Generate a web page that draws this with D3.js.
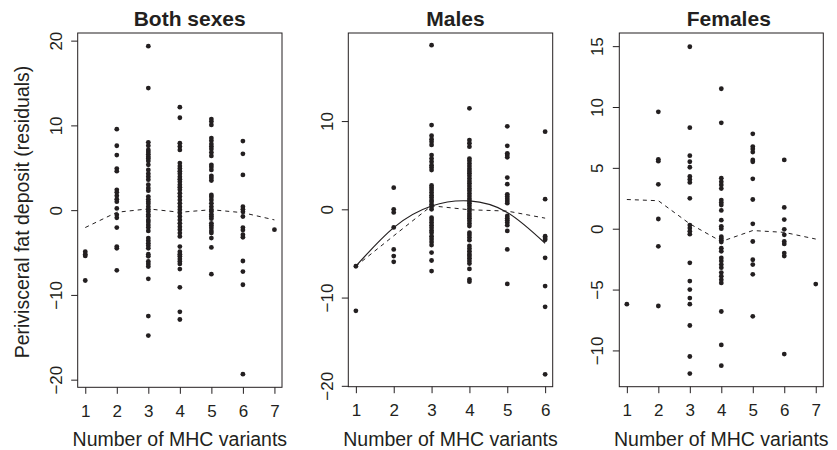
<!DOCTYPE html>
<html>
<head>
<meta charset="utf-8">
<script src="https://cdnjs.cloudflare.com/ajax/libs/d3/7.8.5/d3.min.js"></script>
<style>
    body { margin: 0; background: #fff; }
    svg text { font-family: "Liberation Sans", Arial, Helvetica, sans-serif; fill: #231f20; }
</style>
</head>
<body>
<div id="chart"></div>
<script>
// Panel titles and axis ticks
const titles = ["Both sexes", "Males", "Females"];
const bothTicksX = [1, 2, 3, 4, 5, 6, 7];
const malesTicksX = [1, 2, 3, 4, 5, 6];
const femalesTicksX = [1, 2, 3, 4, 5, 6, 7];
const bothTicksY = [-20, -10, 0, 10, 20];
const malesTicksY = [-20, -10, 0, 10];
const femalesTicksY = [-10, -5, 0, 5, 10, 15];

// Residuals per number of MHC variants (index 0 = 1 variant)
const bothPoints = [
    [-4.9, -5.2, -5.4, -8.3],
    [9.55, 7.6, 6.5, 4.9, 4.6, 2.4, 2.1, 1.7, 1.3, 1.0, 0.2, -0.55, -0.9, -2.05, -4.3, -4.5, -7.1],
    [19.35, 14.4, 8.0, 7.6, 7.1, 6.85, 6.6, 6.3, 6.1, 5.8, 5.35, 4.75, 4.3, 3.95, 3.6, 3.0, 2.6, 2.3, 1.6, 1.3, 1.0, 0.75, 0.4, 0.1, -0.15, -0.5, -0.75, -1.15, -1.4, -1.75, -2.05, -2.45, -3.3, -3.6, -3.9, -4.2, -4.5, -5.2, -5.45, -6.05, -6.35, -6.65, -8.1, -12.5, -14.8],
    [12.15, 10.9, 7.9, 7.5, 7.1, 5.55, 5.2, 4.9, 4.6, 4.3, 3.95, 3.65, 3.35, 3.0, 2.7, 2.4, 2.0, 1.6, 1.2, 0.8, 0.4, 0.05, -0.35, -0.75, -1.15, -1.55, -1.95, -2.3, -2.7, -3.1, -4.3, -4.9, -5.2, -5.45, -5.75, -6.05, -6.35, -6.95, -9.1, -12.0, -12.9],
    [10.75, 10.45, 10.05, 8.5, 8.2, 7.8, 7.5, 7.2, 6.8, 6.4, 5.35, 5.1, 4.75, 4.05, 3.8, 3.5, 1.8, 1.55, 1.2, 0.8, 0.4, 0.05, -0.15, -0.5, -0.75, -1.0, -1.55, -1.8, -2.1, -2.45, -2.7, -3.3, -4.4, -7.55],
    [8.15, 6.65, 4.15, 0.4, 0.1, -0.2, -0.75, -2.05, -2.35, -2.9, -3.2, -6.0, -7.25, -8.8, -19.35],
    [-2.3]
];
const malesPoints = [
    [-6.45, -11.5],
    [2.45, 0.0, -0.35, -2.05, -4.55, -5.3, -5.95],
    [18.6, 9.55, 8.35, 7.95, 7.65, 7.3, 6.15, 5.75, 5.4, 5.0, 4.75, 4.45, 2.7, 2.45, 2.2, 1.9, 1.6, 1.35, 1.05, 0.85, 0.55, 0.3, 0.0, -0.95, -1.2, -1.5, -1.8, -2.1, -2.4, -2.65, -3.05, -3.35, -3.7, -4.05, -4.9, -5.8, -7.0],
    [11.45, 7.85, 7.5, 7.1, 5.75, 5.5, 5.2, 4.9, 4.6, 4.35, 4.1, 3.8, 3.5, 3.2, 2.95, 2.65, 2.35, 2.1, 1.8, 1.5, 1.2, 0.95, 0.7, 0.4, 0.1, -0.2, -0.5, -0.75, -1.0, -1.3, -1.6, -1.9, -2.65, -2.9, -3.2, -3.5, -4.15, -4.45, -4.75, -5.05, -5.3, -5.55, -5.85, -6.15, -6.75, -7.95, -8.2],
    [9.4, 7.2, 6.35, 6.15, 5.9, 3.6, 2.85, 1.7, 1.45, 1.2, 0.95, 0.7, -0.75, -1.0, -1.25, -1.5, -1.8, -2.45, -4.55, -8.45],
    [8.8, 1.15, -3.05, -3.25, -3.45, -5.5, -8.7, -11.05, -18.7]
];
const femalesPoints = [
    [-6.2],
    [9.6, 5.7, 5.55, 3.65, 0.8, -1.45, -6.35],
    [14.95, 8.3, 6.0, 5.5, 5.05, 4.3, 4.05, 3.8, 2.5, 0.3, 0.05, -0.2, -0.45, -2.8, -4.3, -5.0, -5.7, -6.2, -7.95, -10.5, -11.9],
    [11.5, 8.7, 4.15, 3.85, 3.6, 3.3, 2.35, 2.15, 1.95, 1.5, 0.7, 0.2, 0.0, -0.65, -0.8, -0.95, -1.1, -1.6, -1.85, -2.4, -2.65, -2.95, -3.2, -3.6, -3.9, -4.2, -4.45, -6.8, -9.55, -11.25],
    [7.8, 6.75, 6.55, 6.3, 5.65, 5.5, 4.1, 2.4, 0.4, -1.05, -2.55, -2.95, -3.75, -7.2],
    [5.65, 1.75, 0.75, -0.05, -0.5, -1.05, -1.25, -2.0, -2.25, -10.3],
    [-4.55]
];

// Dashed trend lines (value at each number of variants) and the quadratic fit for males
const bothTrend = [-2.05, -0.25, 0.15, -0.25, 0.05, -0.3, -1.15];
const malesTrend = [-6.44, -3.0, 0.4, -0.05, -0.2, -1.0];
const malesQuadratic = [-6.44, -2.07, 0.37, 0.95, -0.35, -3.85];
const femalesTrend = [2.4, 2.3, 0.4, -1.05, -0.15, -0.3, -0.85];

const width = 837;
const height = 450;
const ink = "#231f20";

const svg = d3.select("#chart")
    .append("svg")
    .attr("width", width)
    .attr("height", height);

// Shared y axis label
svg.append("text")
    .attr("transform", "translate(29,212) rotate(-90)")
    .style("text-anchor", "middle")
    .style("font-size", "19.5px")
    .text("Perivisceral fat deposit (residuals)");

//Function to draw one panel
function createPanel(opts) {
    const x = d3.scaleLinear().domain(opts.xDomain).range([opts.left, opts.right]);
    const y = d3.scaleLinear().domain(opts.yDomain).range([opts.bottom, opts.top]);

    const g = svg.append("g");

    // Points
    const flat = opts.points.flatMap((vals, i) => vals.map(v => ({ n: i + 1, v: v })));
    g.selectAll(".dot")
        .data(flat)
        .enter()
        .append("circle")
        .attr("class", "dot")
        .attr("cx", d => x(d.n))
        .attr("cy", d => y(d.v))
        .attr("r", 2.4)
        .attr("fill", ink);

    // Dashed trend
    const line = d3.line()
        .x((d, i) => x(i + 1))
        .y(d => y(d));

    g.append("path")
        .datum(opts.trend)
        .attr("d", line)
        .attr("fill", "none")
        .attr("stroke", ink)
        .attr("stroke-width", 1)
        .attr("stroke-dasharray", "4,4");

    if (opts.fit) {
        g.append("path")
            .datum(opts.fit)
            .attr("d", line.curve(d3.curveNatural))
            .attr("fill", "none")
            .attr("stroke", ink)
            .attr("stroke-width", 1.2);
    }

    // Box
    g.append("rect")
        .attr("x", opts.left)
        .attr("y", opts.top)
        .attr("width", opts.right - opts.left)
        .attr("height", opts.bottom - opts.top)
        .attr("fill", "none")
        .attr("stroke", ink)
        .attr("stroke-width", 1);

    // Axes
    const xAxis = g.append("g")
        .attr("transform", `translate(0,${opts.bottom})`)
        .call(d3.axisBottom(x).tickValues(opts.ticksX).tickSize(6.5).tickSizeOuter(0).tickFormat(d3.format("d")));
    xAxis.select(".domain").remove();
    xAxis.selectAll("line").attr("stroke", ink);
    xAxis.selectAll("text")
        .attr("y", 29.4)
        .attr("dy", null)
        .attr("fill", ink)
        .style("font-size", "17px")
        .style("font-family", "Liberation Sans, Arial, sans-serif");

    const yAxis = g.append("g")
        .attr("transform", `translate(${opts.left},0)`)
        .call(d3.axisLeft(y).tickValues(opts.ticksY).tickSize(6.5).tickSizeOuter(0).tickFormat(d => d < 0 ? "\u2212" + Math.abs(d) : d));
    yAxis.select(".domain").remove();
    yAxis.selectAll("line").attr("stroke", ink);
    yAxis.selectAll("text")
        .attr("transform", "rotate(-90)")
        .attr("x", 0)
        .attr("y", opts.yLabelX - opts.left)
        .attr("dy", null)
        .attr("fill", ink)
        .style("text-anchor", "middle")
        .style("font-size", "17px")
        .style("font-family", "Liberation Sans, Arial, sans-serif");

    // Title and x axis label
    g.append("text")
        .attr("x", opts.titleX)
        .attr("y", 26)
        .style("text-anchor", "middle")
        .style("font-size", "21px")
        .style("font-weight", "bold")
        .text(opts.title);

    g.append("text")
        .attr("x", (opts.left + opts.right) / 2)
        .attr("y", 446)
        .style("text-anchor", "middle")
        .style("font-size", "19.5px")
        .text("Number of MHC variants");
}

createPanel({
    title: titles[0], points: bothPoints, trend: bothTrend,
    ticksX: bothTicksX, ticksY: bothTicksY,
    left: 77.7, right: 282, top: 33, bottom: 387.3,
    xDomain: [0.76, 7.24], yDomain: [-20.9, 20.9],
    titleX: 189.7, yLabelX: 61.7
});
createPanel({
    title: titles[1], points: malesPoints, trend: malesTrend, fit: malesQuadratic,
    ticksX: malesTicksX, ticksY: malesTicksY,
    left: 348.3, right: 552.7, top: 33, bottom: 386.7,
    xDomain: [0.8, 6.2], yDomain: [-20.1, 19.98],
    titleX: 455.5, yLabelX: 332.7
});
createPanel({
    title: titles[2], points: femalesPoints, trend: femalesTrend,
    ticksX: femalesTicksX, ticksY: femalesTicksY,
    left: 619.3, right: 823.3, top: 33, bottom: 386.7,
    xDomain: [0.76, 7.24], yDomain: [-12.98, 16.08],
    titleX: 728.8, yLabelX: 603.3
});
</script>
</body>
</html>
